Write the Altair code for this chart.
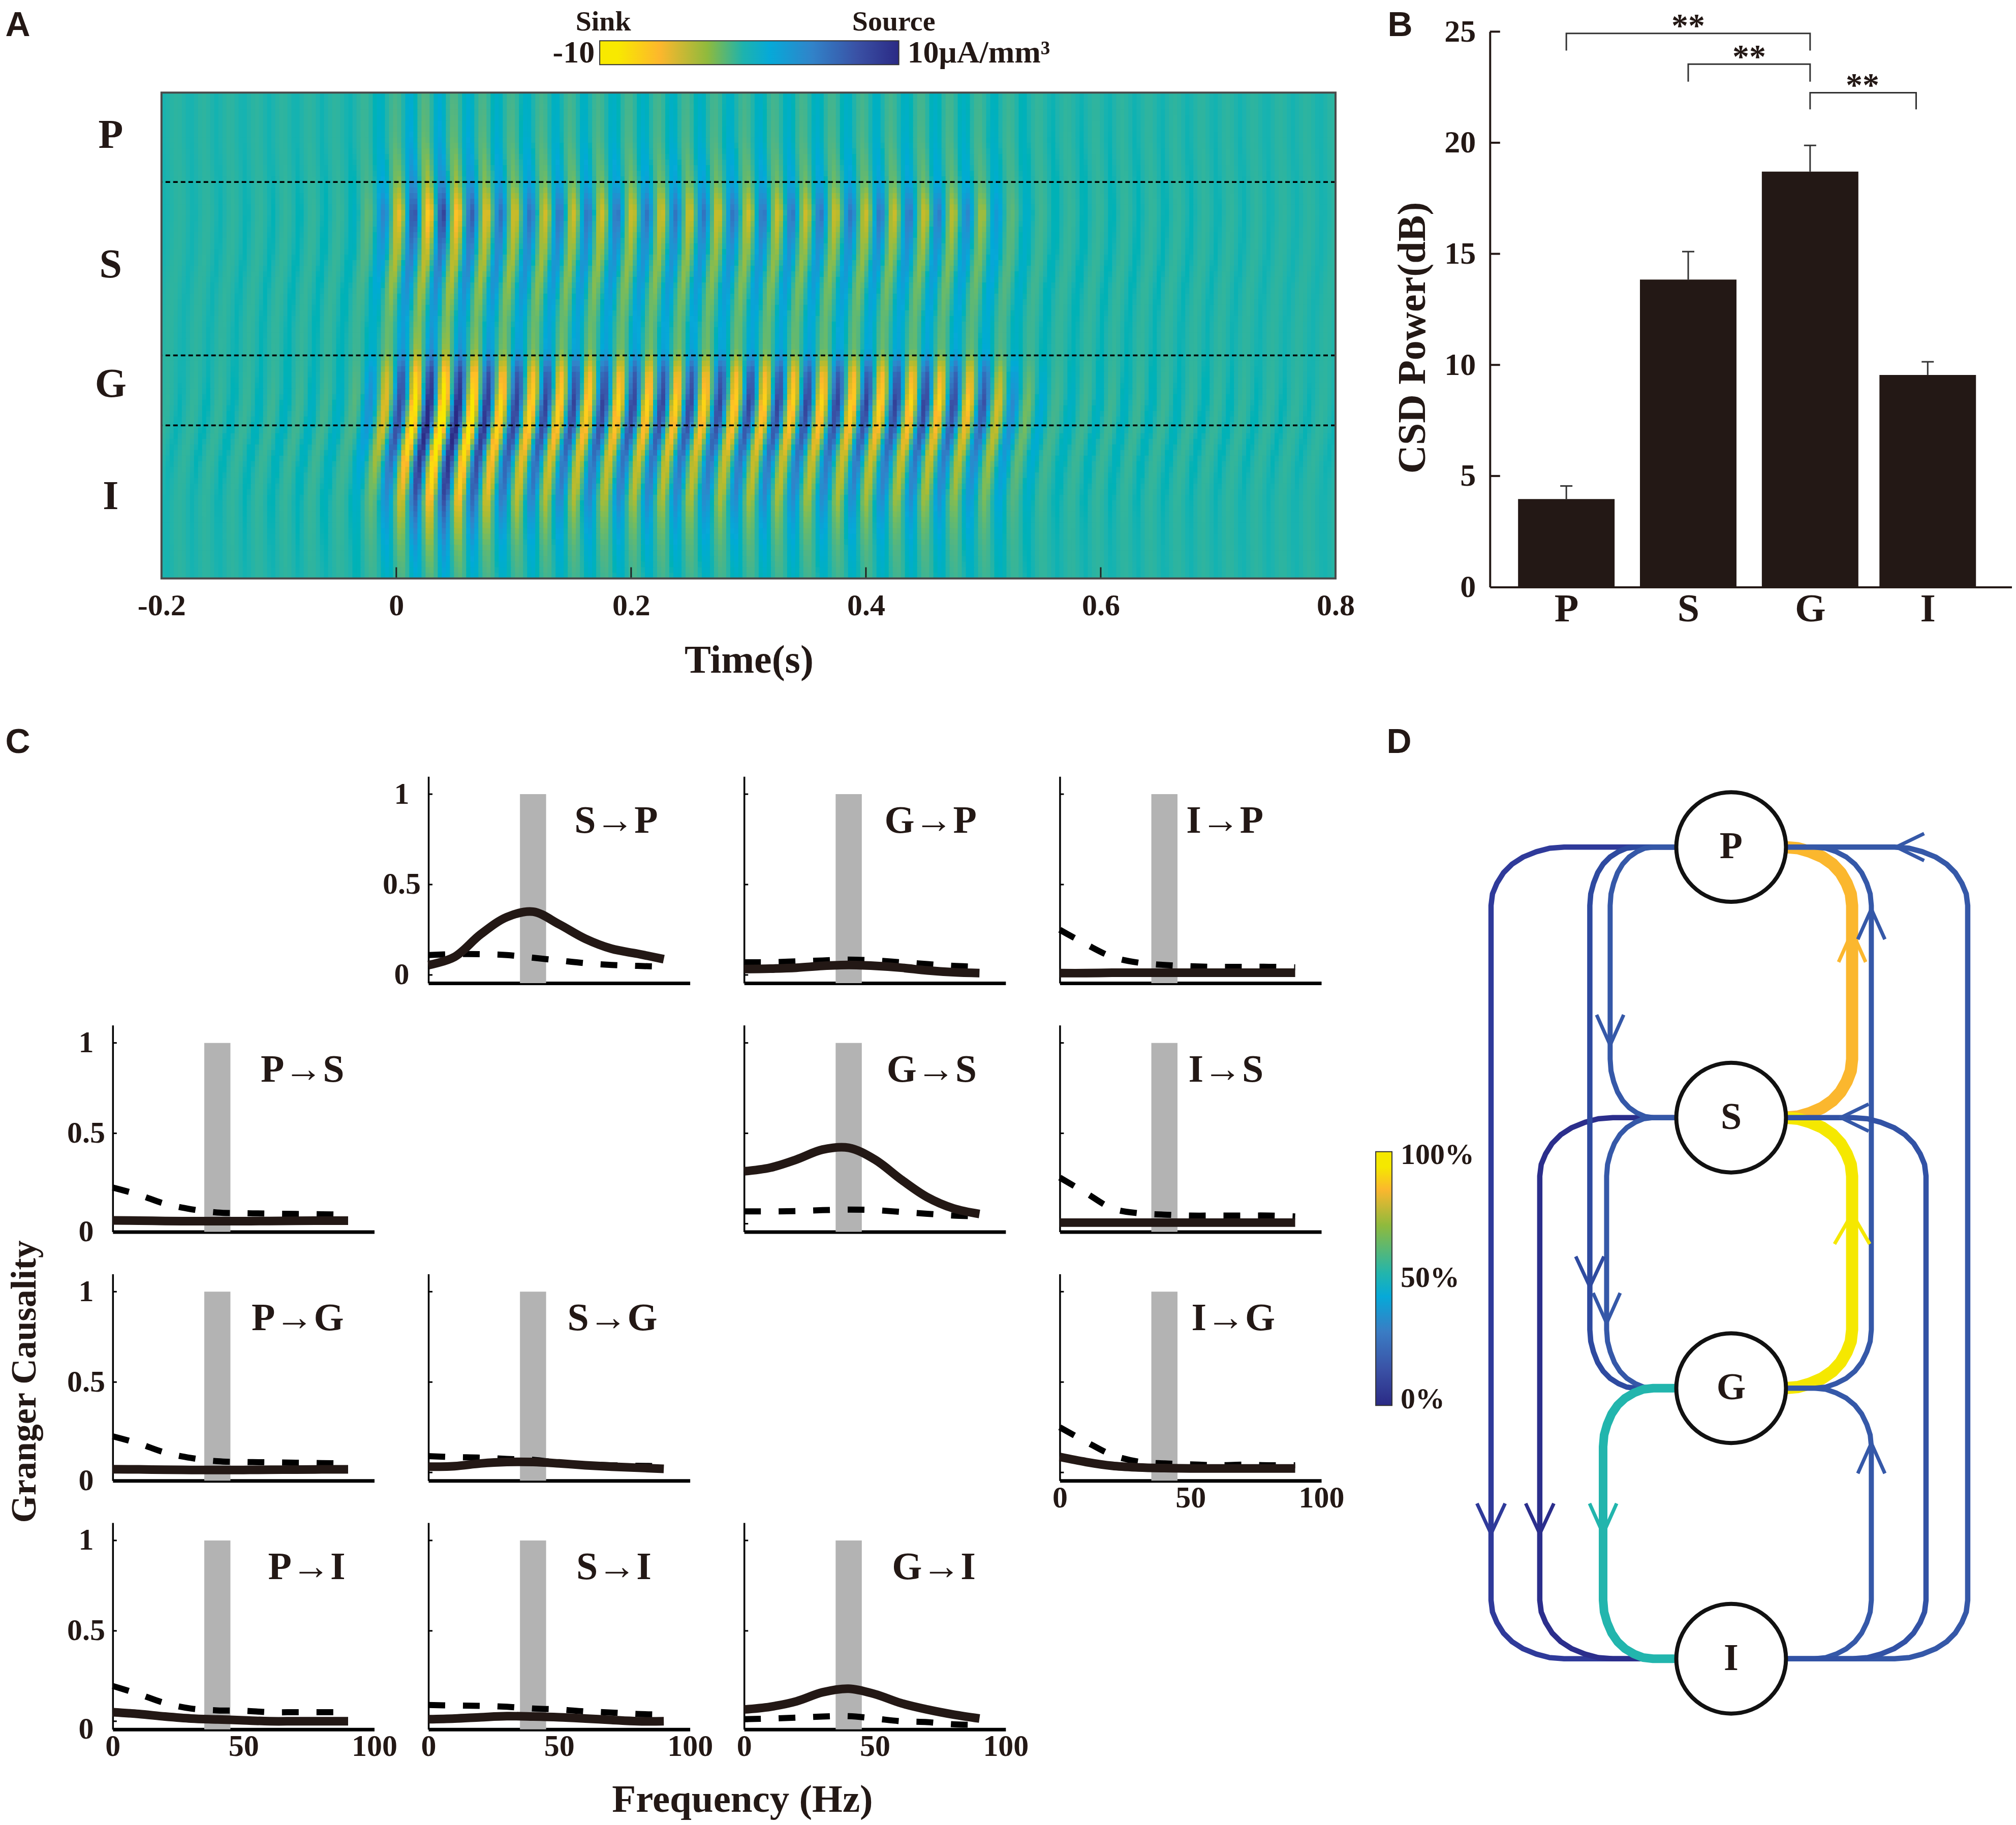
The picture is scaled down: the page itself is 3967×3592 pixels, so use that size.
import altair as alt
import numpy as np
import pandas as pd

SERIF = "Liberation Serif"
SANS = "Liberation Sans"
INK = "#231815"

# ---------- panel A: values ----------
STRIPE_TIMES = [-0.222, -0.195, -0.172, -0.150, -0.127, -0.105, -0.082, -0.060, -0.036,
                -0.009, 0.0165, 0.041, 0.066, 0.090, 0.116, 0.140, 0.164, 0.190, 0.215, 0.239,
                0.263, 0.289, 0.314, 0.338, 0.363, 0.389, 0.413, 0.439, 0.463, 0.488, 0.514,
                0.539, 0.563, 0.588, 0.610, 0.633, 0.655, 0.678, 0.700, 0.722, 0.745, 0.767, 0.790, 0.815]
DEPTHS = [0, .09, .18, .25, .32, .40, .47, .53, .58, .64, .70, .76, .82, .88, .94, 1]
ENV_T = [-0.20, -0.04, -0.02, -0.005, 0.015, 0.04, 0.065, 0.09, 0.14, 0.30, 0.45, 0.50, 0.53, 0.56, 0.80]
ENV = [
    [.04, .04, .04, .04, .04, .04, .04, .04, .04, .05, .05, .05, .04, .04, .04, .04],
    [.05, .05, .06, .08, .08, .08, .08, .08, .10, .14, .14, .12, .10, .08, .06, .05],
    [.10, .12, .16, .28, .24, .18, .14, .16, .35, .45, .42, .38, .30, .22, .14, .10],
    [.12, .17, .30, .62, .48, .38, .28, .30, .62, .74, .74, .60, .50, .36, .24, .14],
    [.18, .25, .42, .80, .55, .42, .34, .42, .85, 1.0, 1.0, .95, .80, .52, .32, .18],
    [.18, .25, .42, .90, .60, .45, .34, .42, .90, 1.1, 1.1, 1.0, .90, .58, .36, .22],
    [.15, .22, .36, .72, .52, .40, .30, .38, .85, 1.0, 1.0, .85, .72, .48, .28, .17],
    [.12, .18, .30, .60, .45, .38, .28, .32, .75, .90, .85, .68, .58, .38, .22, .14],
    [.12, .16, .28, .58, .42, .34, .27, .30, .72, .88, .78, .58, .50, .33, .20, .12],
    [.12, .16, .28, .58, .40, .33, .26, .28, .72, .88, .74, .55, .48, .32, .20, .12],
    [.12, .16, .26, .56, .40, .30, .24, .26, .72, .90, .74, .55, .46, .30, .18, .12],
    [.10, .14, .20, .44, .32, .26, .20, .24, .62, .80, .62, .44, .34, .24, .15, .10],
    [.08, .10, .12, .18, .16, .15, .12, .12, .28, .38, .32, .24, .18, .12, .09, .08],
    [.05, .06, .07, .08, .08, .08, .07, .07, .10, .13, .12, .10, .08, .06, .05, .05],
    [.04, .04, .04, .04, .04, .04, .04, .04, .04, .05, .05, .05, .04, .04, .04, .04],
]
BASELINE = -0.03
SHIFT_D = [0, .10, .18, .25, .33, .40, .48, .55, .62, .685, .757, .84, .92, 1]
SHIFT_S = [.008, .008, .010, .011, .009, .005, .002, .001, 0, -.003, -.009, -.013, -.013, -.012]
DIVIDERS = [.184, .541, .685]
LAYER_LABELS = ["P", "S", "G", "I"]
LAYER_Y = [85, 340, 575, 796]
TIME_TICKS = [-0.2, 0, 0.2, 0.4, 0.6, 0.8]
CMAP_V = [-1, -.75, -.45, -.2, 0, .2, .45, .75, 1]
CMAP_C = ["#f8e900", "#fdb72c", "#a9bb35", "#52b583", "#1db3ae", "#06a9d8", "#3183c9", "#3a51a5", "#2b2a85"]
CBAR_A = [("#f8e900", 0), ("#f8e900", .06), ("#fdb72c", .2), ("#8fba3d", .36), ("#1db3ae", .48),
          ("#06a9d8", .57), ("#3183c9", .71), ("#3a51a5", .86), ("#2b2a85", 1)]

# ---------- panel B ----------
POWER_POS = [1, 2, 3, 3.965]
POWER_CAT = ["P", "S", "G", "I"]
POWER_VAL = [3.96, 13.84, 18.7, 9.55]
POWER_ERR = [4.55, 15.1, 19.88, 10.14]
BRACKETS = [[(1, 24.15), (1, 24.92), (3, 24.92), (3, 24.15)],
            [(2, 22.75), (2, 23.54), (3, 23.54), (3, 22.75)],
            [(3, 21.5), (3, 22.25), (3.87, 22.25), (3.87, 21.5)]]
STARS = [(2.0, 25.47), (2.5, 24.07), (3.43, 22.78)]

# ---------- panel C: curve values at 0,10..90 Hz ----------
FREQ = [0, 10, 20, 30, 40, 50, 60, 70, 80, 90]
FLAT_I = [.010, .010, .012, .012, .012, .012, .012, .012, .012, .012]
GRANGER = {
    "S→P": ([.054, .10, .225, .32, .35, .28, .20, .145, .117, .087], [.11, .115, .115, .11, .095, .08, .065, .055, .05, .045], 452),
    "G→P": ([.033, .035, .04, .05, .055, .05, .04, .025, .015, .01], [.07, .07, .075, .08, .085, .08, .07, .06, .05, .045], 458),
    "I→P": (FLAT_I, [.25, .17, .10, .068, .055, .048, .045, .045, .045, .042], 401),
    "P→S": ([.018, .017, .015, .014, .014, .014, .015, .016, .017, .017], [.2, .16, .11, .08, .062, .058, .056, .054, .052, .05], 456),
    "G→S": ([.29, .31, .355, .41, .42, .355, .245, .147, .085, .054], [.068, .068, .07, .075, .078, .075, .065, .055, .045, .04], 458),
    "I→S": ([.006, .006, .006, .006, .006, .006, .006, .006, .006, .006], [.255, .17, .085, .058, .05, .045, .045, .045, .045, .04], 401),
    "P→G": ([.018, .017, .015, .014, .014, .014, .015, .016, .017, .017], [.2, .16, .11, .08, .062, .058, .056, .054, .052, .05], 455),
    "S→G": ([.032, .035, .05, .058, .058, .05, .04, .032, .026, .02], [.09, .085, .082, .075, .07, .054, .045, .04, .037, .035], 451),
    "I→G": ([.086, .058, .037, .028, .024, .022, .022, .022, .022, .022], [.25, .17, .097, .06, .05, .045, .04, .043, .04, .04], 424),
    "P→I": ([.05, .04, .026, .015, .01, .005, 0, 0, 0, 0], [.195, .15, .10, .07, .06, .058, .05, .05, .05, .05], 458),
    "S→I": ([.011, .015, .022, .028, .026, .022, .015, .007, 0, 0], [.09, .087, .085, .08, .07, .065, .054, .048, .04, .037], 439),
    "G→I": ([.065, .08, .11, .16, .18, .15, .10, .065, .037, .015], [.011, .015, .02, .026, .028, .015, 0, -.005, -.017, -.02], 456),
}
GRID = [[None, "S→P", "G→P", "I→P"],
        ["P→S", None, "G→S", "I→S"],
        ["P→G", "S→G", None, "I→G"],
        ["P→I", "S→I", "G→I", None]]
BAND = [35, 45]

# ---------- panel D ----------
LEVEL = {"P": 3, "S": 2, "G": 1, "I": 0}
NODE_NAMES = ["P", "S", "G", "I"]
EDGE_A = ["P", "S", "P", "P", "S", "G", "P", "S", "G", "P", "P", "S"]
EDGE_B = ["I", "I", "G", "S", "G", "I", "S", "G", "I", "G", "I", "I"]
EDGE_LANE = [-.887, -.707, -.522, -.447, -.460, -.473, .447, .447, .518, .518, .874, .720]
EDGE_RX = [.27, .27, .17, .16, .17, .185, .25, .25, .21, .21, .27, .27]
EDGE_COL = ["#2f3a9a", "#2b2e8c", "#2e4aa0", "#3558a8", "#3558a8", "#22b5ad",
            "#fbb72e", "#f5e800", "#3558a8", "#3558a8", "#3558a8", "#3252a5"]
EDGE_W = [10.5, 10.5, 10.5, 10, 10, 17, 24, 24, 10, 10, 10.5, 10.5]
# chevrons: tip x, tip level, direction (d down, u up, l left), colour, half width
ARROWS = [(-.887, .462, "d", "#2f3a9a", .052), (-.707, .462, "d", "#2b2e8c", .052), (-.522, 1.375, "d", "#2e4aa0", .052),
          (-.447, 2.268, "d", "#3558a8", .05), (-.460, 1.24, "d", "#3558a8", .05), (-.473, .462, "d", "#22b5ad", .05),
          (.447, 2.687, "u", "#fbb72e", .05), (.518, 2.771, "u", "#3558a8", .05), (.447, 1.645, "u", "#f5e800", .065),
          (.518, .797, "u", "#3558a8", .05), (.61, 3, "l", "#3558a8", .05), (.405, 2, "l", "#3558a8", .05)]
CORNER = [(1, 0), (.8, .02), (.62, .08), (.44, .17), (.29, .29), (.17, .44), (.08, .62), (.02, .8), (0, 1)]
CBAR_D = [("#f5e800", 0), ("#f5e800", .06), ("#fbb72e", .15), ("#8fba3d", .29), ("#22b5ad", .48),
          ("#06a9d8", .57), ("#3a7cc4", .71), ("#3a51a5", .86), ("#2b2a85", 1)]
CBAR_LABELS = [("100%", 1.861), ("50%", 1.407), ("0%", .957)]

COLS_W, A_H = 2312, 957


def gradient(stops, horizontal):
    return alt.Gradient(gradient="linear", stops=[alt.GradientStop(color=c, offset=o) for c, o in stops],
                        x1=0, y1=0, x2=1 if horizontal else 0, y2=0 if horizontal else 1)


def label(text, x, y, size, font=SERIF, angle=0, align="center", weight="bold", color=INK, baseline="middle"):
    kw = {"angle": angle} if angle else {}
    return alt.Chart(alt.Data(values=[{"t": text}])).mark_text(
        font=font, fontSize=size, fontWeight=weight, align=align, baseline=baseline, color=color, **kw
    ).encode(text="t:N", x=alt.value(x), y=alt.value(y))


def spacer(w=1, h=1):
    return alt.Chart(alt.Data(values=[{"a": 0}])).mark_point(opacity=0).encode(
        x=alt.value(0), y=alt.value(0)).properties(width=w, height=h)


# ---------- build A ----------
dt, dd = 8 / COLS_W, 11 / A_H
rows = []
depth_centres = (np.arange(87) + .5) * dd
time_centres = -0.2 + (np.arange(289) + .5) * dt
env = np.array(ENV)
for r, d in enumerate(depth_centres):
    profile = np.array([np.interp(d, DEPTHS, env[k]) for k in range(len(ENV_T))])
    shift = np.interp(d, SHIFT_D, SHIFT_S)
    amp = np.interp(time_centres, ENV_T, profile)
    phase = np.interp(time_centres - shift, STRIPE_TIMES, np.arange(len(STRIPE_TIMES)))
    val = BASELINE - amp * np.cos(2 * np.pi * phase)
    for c, t in enumerate(time_centres):
        rows.append({"t0": round(-0.2 + c * dt, 6), "t1": round(min(-0.2 + (c + 1.3) * dt, .8), 6),
                     "d0": round(r * dd, 6), "d1": round(min((r + 1.2) * dd, 1), 6), "v": round(float(val[c]), 3)})
heat_df = pd.DataFrame(rows)

xA = alt.Scale(domain=[-0.2, 0.8], nice=False, zero=False)
yA = alt.Scale(domain=[1, 0], nice=False, zero=False)
axisA = alt.Axis(values=TIME_TICKS, labelExpr="datum.value<0 ? '-0.2' : datum.label", format=".1~f", grid=False,
                 domain=False, ticks=False, labelFont=SERIF, labelFontWeight="bold", labelFontSize=60,
                 labelColor=INK, labelPadding=25, labelFlush=False, labelOverlap=False)
heat = alt.Chart(heat_df).mark_rect().encode(
    x=alt.X("t0:Q", scale=xA, axis=axisA, title=None), x2="t1:Q",
    y=alt.Y("d0:Q", scale=yA, axis=None), y2="d1:Q",
    color=alt.Color("v:Q", legend=None, scale=alt.Scale(domain=CMAP_V, range=CMAP_C, clamp=True)),
)
dividers = alt.Chart(pd.DataFrame({"d": DIVIDERS})).mark_rule(color="black", strokeWidth=3.5, strokeDash=[9, 6]).encode(
    y=alt.Y("d:Q", scale=yA, axis=None))
tick_a = alt.Chart(pd.DataFrame({"t": TIME_TICKS[1:5]})).mark_rule(color="#222222", strokeWidth=3).encode(
    x=alt.X("t:Q", scale=xA, title=None), y=alt.value(A_H - 22), y2=alt.value(A_H))
frame_a = alt.Chart(alt.Data(values=[{"a": 0}])).mark_rect(fillOpacity=0, stroke="#4a4a4a", strokeWidth=4).encode(
    x=alt.value(0), x2=alt.value(COLS_W), y=alt.value(0), y2=alt.value(A_H))
cbar_a = alt.Chart(alt.Data(values=[{"a": 0}])).mark_rect(fill=gradient(CBAR_A, True), stroke="#333333", strokeWidth=2).encode(
    x=alt.value(1181 - 318), x2=alt.value(1770 - 318), y=alt.value(79 - 181), y2=alt.value(126 - 181))
a_labels = [label(n, 218 - 318, y, 80) for n, y in zip(LAYER_LABELS, LAYER_Y)]
A = alt.layer(
    heat, dividers, tick_a, frame_a, cbar_a, *a_labels,
    label("Sink", 1188 - 318, 42 - 181, 56),
    label("Source", 1760 - 318, 42 - 181, 56),
    label("-10", 1171 - 318, 103 - 181, 62, align="right"),
    label("10μA/mm³", 1787 - 318, 103 - 181, 62, align="left"),
    label("Time(s)", 1475 - 318, 1301 - 181, 78),
    label("A", 35 - 318, 50 - 181, 68, font=SANS),
).properties(width=COLS_W, height=A_H)

# ---------- build B ----------
xB = alt.Scale(domain=[0.373, 4.656], nice=False, zero=False)
yB = alt.Scale(domain=[0, 25], nice=False)
BW = .396
bar_df = pd.DataFrame({"p0": [p - BW for p in POWER_POS], "p1": [p + BW for p in POWER_POS], "p": POWER_POS,
                       "v": POWER_VAL, "e": POWER_ERR, "c0": [p - .05 for p in POWER_POS], "c1": [p + .05 for p in POWER_POS]})
lab_expr = " : ".join(f"datum.value=={p} ? '{c}'" for p, c in zip(POWER_POS[:-1], POWER_CAT[:-1])) + f" : '{POWER_CAT[-1]}'"
axis_bx = alt.Axis(values=POWER_POS, labelExpr=lab_expr, grid=False, ticks=False, domainColor=INK, domainWidth=4,
                   labelFont=SERIF, labelFontWeight="bold", labelFontSize=78, labelColor=INK, labelPadding=5,
                   labelOverlap=False, labelFlush=False)
axis_by = alt.Axis(values=[0, 5, 10, 15, 20, 25], grid=False, ticks=False, domainColor=INK, domainWidth=4,
                   labelFont=SERIF, labelFontWeight="bold", labelFontSize=62, labelColor=INK, labelPadding=28,
                   labelOverlap=False, labelFlush=False)
bars = alt.Chart(bar_df).mark_rect(color=INK).encode(
    x=alt.X("p0:Q", scale=xB, axis=axis_bx, title=None), x2="p1:Q",
    y=alt.Y("v:Q", scale=yB, axis=axis_by, title=None), y2=alt.datum(0))
err = alt.Chart(bar_df).mark_rule(color="#333333", strokeWidth=3).encode(
    x=alt.X("p:Q", scale=xB, title=None), y=alt.Y("v:Q", scale=yB, title=None), y2="e:Q")
cap = alt.Chart(bar_df).mark_rule(color="#333333", strokeWidth=3).encode(
    x=alt.X("c0:Q", scale=xB, title=None), x2="c1:Q", y=alt.Y("e:Q", scale=yB, title=None))
ticks_b = alt.Chart(pd.DataFrame({"v": [5, 10, 15, 20, 25]})).mark_rule(color=INK, strokeWidth=4).encode(
    x=alt.value(0), x2=alt.value(20), y=alt.Y("v:Q", scale=yB, title=None))
br_rows = [{"b": i, "o": j, "p": p, "v": v} for i, br in enumerate(BRACKETS) for j, (p, v) in enumerate(br)]
brackets = alt.Chart(pd.DataFrame(br_rows)).mark_line(color="#333333", strokeWidth=3).encode(
    x=alt.X("p:Q", scale=xB, title=None), y=alt.Y("v:Q", scale=yB, title=None), detail="b:N", order="o:Q")
stars = alt.Chart(pd.DataFrame({"p": [s[0] for s in STARS], "v": [s[1] for s in STARS], "t": ["**"] * 3})).mark_text(
    font=SERIF, fontWeight="bold", fontSize=66, color=INK, baseline="middle", dy=10).encode(
    x=alt.X("p:Q", scale=xB, title=None), y=alt.Y("v:Q", scale=yB, title=None), text="t:N")
B = alt.layer(
    bars, err, cap, ticks_b, brackets, stars,
    label("CSD Power(dB)", -151, 603, 78, angle=270),
    label("B", 2755 - 2932, 50 - 61, 68, font=SANS),
).properties(width=1028, height=1094)

# ---------- build C ----------
xC = alt.Scale(domain=[0, 100], nice=False, zero=False)
Y_LOW, Y_HIGH = -0.045, 1.098
yC = alt.Scale(domain=[Y_LOW, Y_HIGH], nice=False, zero=False)
PW, PH = 515, 407


def panel(name, show_y, show_x, zero_on_axis):
    solid, dashed, right = GRANGER[name]
    df = pd.DataFrame({"f": FREQ, "s": solid, "d": dashed})
    vals = [Y_LOW if zero_on_axis else 0, 0.5, 1]
    ax_y = alt.Axis(values=vals, labelExpr="datum.value<0.1 ? '0' : datum.value==0.5 ? '0.5' : '1'", labels=show_y,
                    grid=False, ticks=False, domainColor="black", domainWidth=3.5, labelAlign="center", labelPadding=53,
                    labelFont=SERIF, labelFontWeight="bold", labelFontSize=60, labelColor=INK, labelOverlap=False,
                    labelFlush=False)
    ax_x = alt.Axis(values=[0, 50, 100], labels=show_x, format="d", grid=False, ticks=False, domainColor="black",
                    domainWidth=7, labelFont=SERIF, labelFontWeight="bold", labelFontSize=60, labelColor=INK,
                    labelPadding=5, labelOverlap=False, labelFlush=False)
    band = alt.Chart(pd.DataFrame({"f0": [BAND[0]], "f1": [BAND[1]], "y0": [Y_LOW], "y1": [1]})).mark_rect(color="#b3b3b3").encode(
        x=alt.X("f0:Q", scale=xC, axis=ax_x, title=None), x2="f1:Q",
        y=alt.Y("y0:Q", scale=yC, axis=ax_y, title=None), y2="y1:Q")
    marks = alt.Chart(pd.DataFrame({"y": [0, .5, 1]})).mark_rule(color="black", strokeWidth=3).encode(
        x=alt.value(0), x2=alt.value(8), y=alt.Y("y:Q", scale=yC, title=None))
    dash = alt.Chart(df).mark_line(color="black", strokeWidth=12, strokeDash=[33, 35], interpolate="catmull-rom").encode(
        x=alt.X("f:Q", scale=xC, title=None), y=alt.Y("d:Q", scale=yC, title=None))
    sol = alt.Chart(df).mark_line(color=INK, strokeWidth=17, interpolate="catmull-rom").encode(
        x=alt.X("f:Q", scale=xC, title=None), y=alt.Y("s:Q", scale=yC, title=None))
    return alt.layer(band, marks, dash, sol, label(name, right, 88, 76, align="right")).properties(width=PW, height=PH)


cells = []
for r, row in enumerate(GRID):
    for c, name in enumerate(row):
        if name is None:
            layers = [spacer(PW, PH)]
            if r == 0 and c == 0:
                layers += [label("C", 35 - 222, 1462 - 1528, 68, font=SANS),
                           label("Granger Causality", 49 - 222, 2720 - 1528, 70, angle=270),
                           label("Frequency (Hz)", 1462 - 222, 3544 - 1528, 77)]
            cells.append(alt.layer(*layers).properties(width=PW, height=PH))
        else:
            first_col = next(i for i, n in enumerate(row) if n is not None)
            last_row = max(i for i in range(4) if GRID[i][c] is not None)
            cells.append(panel(name, c == first_col, r == last_row, r > 0))
C = alt.concat(*cells, columns=4, spacing=alt.RowColnumber(row=83, column=106.67), bounds="flush")

# ---------- build D ----------
xD = alt.Scale(domain=[-1.424, .953], nice=False, zero=False)
yD = alt.Scale(domain=[-.261, 3.261], nice=False, zero=False)
RY = .216
edge_layers = []


def draw(path, col, w):
    df = pd.DataFrame({"o": range(len(path)), "x": [p[0] for p in path], "y": [p[1] for p in path]})
    return alt.Chart(df).mark_line(color=col, strokeWidth=w, strokeJoin="round").encode(
        x=alt.X("x:Q", scale=xD, axis=None), y=alt.Y("y:Q", scale=yD, axis=None), order="o:Q")


for a, b, lane, rx, col, w in zip(EDGE_A, EDGE_B, EDGE_LANE, EDGE_RX, EDGE_COL, EDGE_W):
    top, bottom = max(LEVEL[a], LEVEL[b]), min(LEVEL[a], LEVEL[b])
    side = 1 if lane > 0 else -1
    path = [(0, top)]
    path += [(lane - side * rx * u, top - RY * v) for u, v in CORNER]
    path += [(lane - side * rx * u, bottom + RY * v) for u, v in reversed(CORNER)]
    path += [(0, bottom)]
    edge_layers.append(draw(path, col, w))
for x, y, kind, col, hw in ARROWS:
    if kind == "l":
        path = [(x + .103, y + hw), (x, y), (x + .103, y - hw)]
    elif kind == "d":
        path = [(x - hw, y + .112), (x, y), (x + hw, y + .112)]
    else:
        path = [(x - hw, y - .112), (x, y), (x + hw, y - .112)]
    edge_layers.append(draw(path, col, 7))
node_df = pd.DataFrame({"x": [0] * 4, "y": [LEVEL[n] for n in NODE_NAMES], "n": NODE_NAMES})
nodes = alt.Chart(node_df).mark_point(shape="circle", fill="white", stroke="#111111", strokeWidth=8, size=46656, opacity=1, filled=False).encode(
    x=alt.X("x:Q", scale=xD, axis=None), y=alt.Y("y:Q", scale=yD, axis=None))
node_txt = alt.Chart(node_df).mark_text(font=SERIF, fontWeight="bold", fontSize=74, color=INK, baseline="middle").encode(
    x=alt.X("x:Q", scale=xD, axis=None), y=alt.Y("y:Q", scale=yD, axis=None), text="n:N")
cbar_d = alt.Chart(pd.DataFrame({"x0": [-1.313], "x1": [-1.253], "y0": [1.874], "y1": [.936]})).mark_rect(
    fill=gradient(CBAR_D, False), stroke="#333333", strokeWidth=2).encode(
    x=alt.X("x0:Q", scale=xD, axis=None), x2="x1:Q", y=alt.Y("y0:Q", scale=yD, axis=None), y2="y1:Q")
cbar_lab = alt.Chart(pd.DataFrame({"x": [-1.221] * 3, "y": [c[1] for c in CBAR_LABELS], "t": [c[0] for c in CBAR_LABELS]})).mark_text(
    font=SERIF, fontWeight="bold", fontSize=58, color=INK, baseline="middle", align="left").encode(
    x=alt.X("x:Q", scale=xD, axis=None), y=alt.Y("y:Q", scale=yD, axis=None), text="t:N")
D = alt.layer(*edge_layers, nodes, node_txt, cbar_d, cbar_lab, label("D", 2755 - 2650, 1462 - 1528, 68, font=SANS)).properties(width=1267, height=1877)

# ---------- placement: with flush bounds a nested concat has no size, so spacing is the offset ----------
A_col = alt.vconcat(spacer(), A, spacing=119, bounds="flush")
A_cell = alt.hconcat(spacer(), A_col, spacing=95, bounds="flush")
row1 = alt.hconcat(A_cell, B, spacing=2712, bounds="flush")
row2 = alt.hconcat(C, D, spacing=2428, bounds="flush")
chart = alt.vconcat(row1, row2, spacing=1467, bounds="flush").properties(
    padding={"left": 2, "top": 6, "right": 0, "bottom": 0}, background="white").configure_view(stroke=None)

chart.save("out.html", embed_options={"renderer": "svg", "actions": False})
